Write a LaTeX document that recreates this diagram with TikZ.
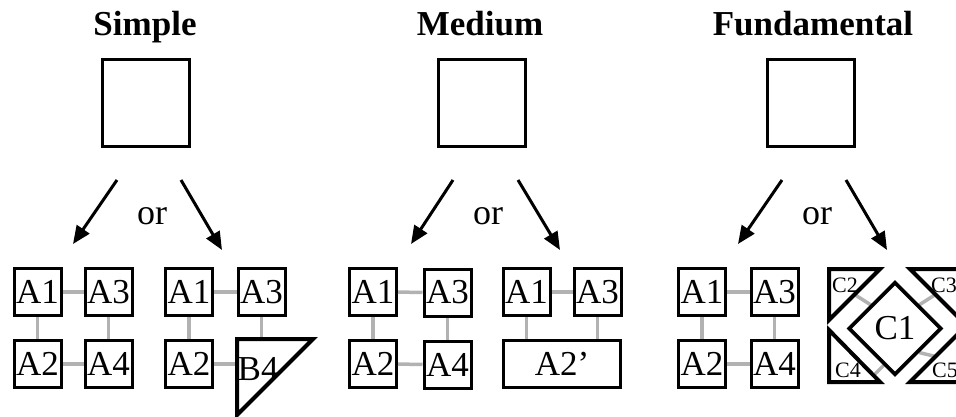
\documentclass[tikz,border=0pt]{standalone}
\usepackage{fontspec}
\setmainfont{Liberation Serif}
\usetikzlibrary{arrows.meta,shapes.geometric}
\definecolor{linkgray}{RGB}{178,178,178}
\begin{document}
\begin{tikzpicture}[x=1pt,y=-1pt,
 box/.style={draw, line width=3pt, fill=white, minimum size=47pt, inner sep=0pt, font=\fontsize{35}{38}\selectfont},
 bigbox/.style={draw, line width=3pt, minimum size=87pt, inner sep=0pt},
 title/.style={font=\fontsize{35}{40}\selectfont\bfseries, anchor=base},
 ortext/.style={font=\fontsize{36}{40}\selectfont},
 choice/.style={line width=3pt, -{Triangle[length=18pt,width=15pt]}},
 link/.style={draw=linkgray, line width=3.5pt},
 tri/.style={draw, line width=4pt, fill=white},
 small/.style={font=\fontsize{22}{24}\selectfont, inner sep=0pt, anchor=base west}]
\useasboundingbox (0,0) rectangle (956,416);

% titles
\node[title] (tS) at (145,35) {Simple};
\node[title] (tM) at (480,35) {Medium};
\node[title] (tF) at (813,35) {Fundamental};

% big squares
\node[bigbox] (sqS) at (145.5,103) {};
\node[bigbox] (sqM) at (482,103) {};
\node[bigbox] (sqF) at (810.5,103) {};

% arrows and "or"
\coordinate (sL0) at (117,180); \coordinate (sL1) at (73,244);
\coordinate (sR0) at (181,180); \coordinate (sR1) at (222,250);
\coordinate (mL0) at (453,180); \coordinate (mL1) at (411,244);
\coordinate (mR0) at (518,180); \coordinate (mR1) at (560,250);
\coordinate (fL0) at (782,180); \coordinate (fL1) at (738,244);
\coordinate (fR0) at (846,180); \coordinate (fR1) at (887,250);
\draw[choice] (sL0) -- (sL1);
\draw[choice] (sR0) -- (sR1);
\draw[choice] (mL0) -- (mL1);
\draw[choice] (mR0) -- (mR1);
\draw[choice] (fL0) -- (fL1);
\draw[choice] (fR0) -- (fR1);
\node[ortext] (orS) at (152,216) {or};
\node[ortext] (orM) at (488,216) {or};
\node[ortext] (orF) at (817,216) {or};

% ---------- Simple, group 1
\node[box] (s1A1) at (37.5,292) {A1};
\node[box] (s1A3) at (108.5,292) {A3};
\node[box] (s1A2) at (37.5,364) {A2};
\node[box] (s1A4) at (108.5,364) {A4};
\draw[link] (s1A1) -- (s1A3);
\draw[link] (s1A1) -- (s1A2);
\draw[link] (s1A3) -- (s1A4);
\draw[link] (s1A2) -- (s1A4);

% ---------- Simple, group 2
\node[box] (s2A1) at (189,292) {A1};
\node[box] (s2A3) at (261.5,292) {A3};
\node[box] (s2A2) at (189,364) {A2};
\coordinate (b4a) at (237,339);
\coordinate (b4b) at (313,339);
\coordinate (b4c) at (237,415);
\draw[link] (s2A1) -- (s2A3);
\draw[link] (s2A1) -- (s2A2);
\draw[link] (s2A3) -- (s2A3 |- b4a);
\draw[link] (s2A2) -- (s2A2 -| b4a);
\draw[tri] (b4a) -- (b4b) -- (b4c) -- cycle;
\node[font=\fontsize{35}{36}\selectfont, inner sep=0pt, anchor=base west] (B4) at (237.5,380) {B4};

% ---------- Medium, group 1
\node[box] (m1A1) at (373,292) {A1};
\node[box] (m1A3) at (447.5,292.5) {A3};
\node[box] (m1A2) at (373,364) {A2};
\node[box] (m1A4) at (447.5,364.5) {A4};
\draw[link] (m1A1) -- (m1A3);
\draw[link] (m1A1) -- (m1A2);
\draw[link] (m1A3) -- (m1A4);
\draw[link] (m1A2) -- (m1A4);

% ---------- Medium, group 2
\node[box] (m2A1) at (526.5,292) {A1};
\node[box] (m2A3) at (597.5,292) {A3};
\node[box, minimum width=117pt] (m2A2) at (562,364) {A2’};
\draw[link] (m2A1) -- (m2A3);
\draw[link] (m2A1) -- (m2A1 |- m2A2.north);
\draw[link] (m2A3) -- (m2A3 |- m2A2.north);

% ---------- Fundamental, group 1
\node[box] (f1A1) at (702,292) {A1};
\node[box] (f1A3) at (774.5,292) {A3};
\node[box] (f1A2) at (702,364) {A2};
\node[box] (f1A4) at (774.5,364) {A4};
\draw[link] (f1A1) -- (f1A3);
\draw[link] (f1A1) -- (f1A2);
\draw[link] (f1A3) -- (f1A4);
\draw[link] (f1A2) -- (f1A4);

% ---------- Fundamental, group 2
\coordinate (c2h) at (854.5,294.5); \coordinate (c1ul) at (871,305);
\coordinate (c3h) at (935.5,294.5); \coordinate (c1ur) at (919,305);
\coordinate (c4h) at (873,376);     \coordinate (c1ll) at (884,365);
\coordinate (c5h) at (935.5,356.5); \coordinate (c1lr) at (919,352.5);
\draw[link] (c2h) -- (c1ul);
\draw[link] (c3h) -- (c1ur);
\draw[link] (c4h) -- (c1ll);
\draw[link] (c5h) -- (c1lr);
\node[diamond, draw, line width=3.8pt, fill=white, minimum width=93pt, minimum height=93pt, inner sep=0pt, font=\fontsize{35}{36}\selectfont] (C1) at (895,328.5) {C1};
\draw[tri] (829,269) -- (880,269) -- (829,320) -- cycle;
\draw[tri] (910,269) -- (961,269) -- (961,320) -- cycle;
\draw[tri] (829,330) -- (880,382) -- (829,382) -- cycle;
\draw[tri] (910,382) -- (961,382) -- (961,331) -- cycle;
\node[small] (C2) at (832,292) {C2};
\node[small] (C3) at (931,292) {C3};
\node[small] (C4) at (835,377) {C4};
\node[small] (C5) at (932,377) {C5};
\end{tikzpicture}
\end{document}
